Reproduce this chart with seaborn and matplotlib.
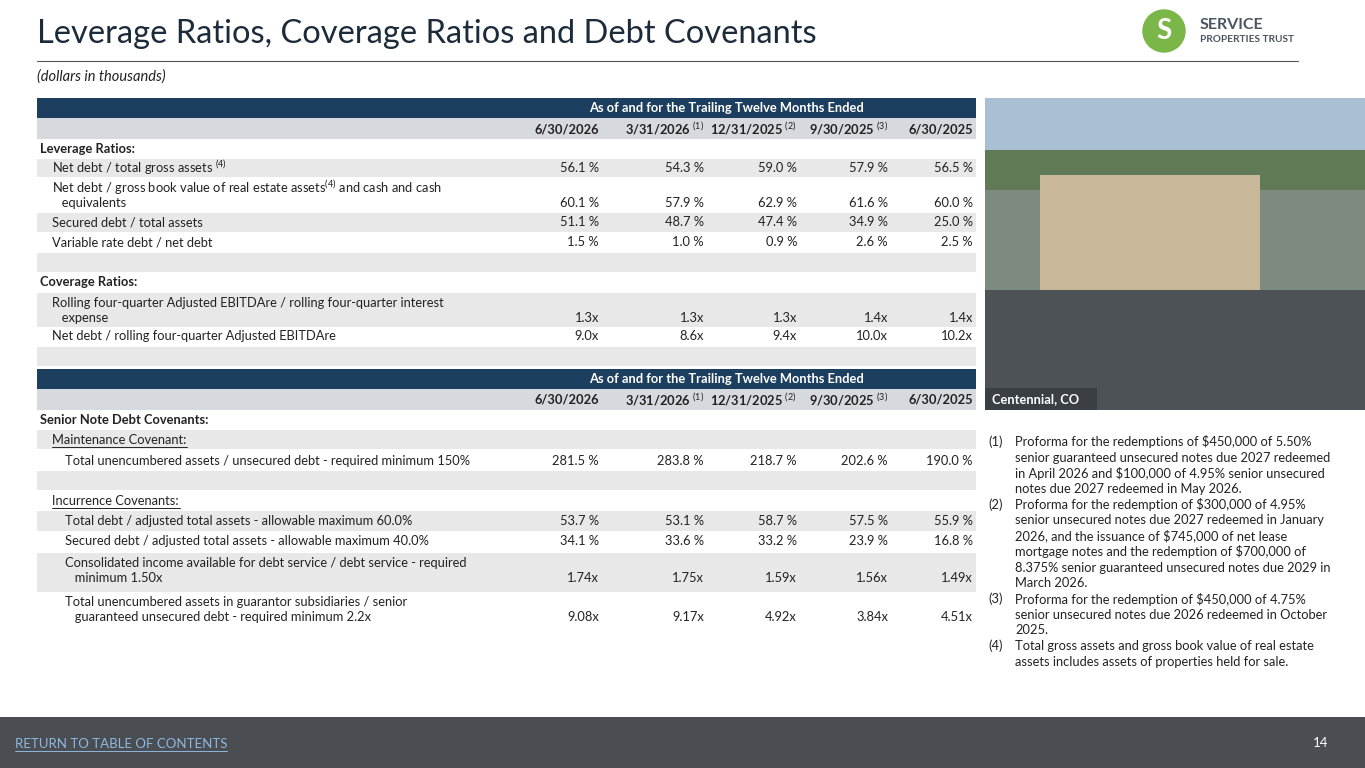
import numpy as np
import pandas as pd
import matplotlib.pyplot as plt
import matplotlib.patches as mpatches
import seaborn as sns

sns.set_theme(style="white")
plt.rcParams['font.family'] = ['Lato', 'DejaVu Sans']
plt.rcParams['mathtext.fontset'] = 'custom'
plt.rcParams['mathtext.rm'] = 'Lato'

NAVY = "#1c3f60"
BAND = "#e8e8e8"
HEAD = "#d6d9de"

periods = ["6/30/2026", "3/31/2026 $^{(1)}$", "12/31/2025 $^{(2)}$", "9/30/2025 $^{(3)}$", "6/30/2025"]
col_x = [591, 696, 789, 880, 965]

lev_labels = [
    ["Net debt / total gross assets $^{(4)}$"],
    ["Net debt / gross book value of real estate assets$^{(4)}$ and cash and cash", "   equivalents"],
    ["Secured debt / total assets"],
    ["Variable rate debt / net debt"],
]
lev_values = [
    ["56.1 %", "54.3 %", "59.0 %", "57.9 %", "56.5 %"],
    ["60.1 %", "57.9 %", "62.9 %", "61.6 %", "60.0 %"],
    ["51.1 %", "48.7 %", "47.4 %", "34.9 %", "25.0 %"],
    ["1.5 %", "1.0 %", "0.9 %", "2.6 %", "2.5 %"],
]
cov_labels = [
    ["Rolling four-quarter Adjusted EBITDAre / rolling four-quarter interest", "   expense"],
    ["Net debt / rolling four-quarter Adjusted EBITDAre"],
]
cov_values = [
    ["1.3x", "1.3x", "1.3x", "1.4x", "1.4x"],
    ["9.0x", "8.6x", "9.4x", "10.0x", "10.2x"],
]
maint_labels = [["Total unencumbered assets / unsecured debt - required minimum 150%"]]
maint_values = [["281.5 %", "283.8 %", "218.7 %", "202.6 %", "190.0 %"]]
inc_labels = [
    ["Total debt / adjusted total assets - allowable maximum 60.0%"],
    ["Secured debt / adjusted total assets - allowable maximum 40.0%"],
    ["Consolidated income available for debt service / debt service - required", "   minimum 1.50x"],
    ["Total unencumbered assets in guarantor subsidiaries / senior", "   guaranteed unsecured debt - required minimum 2.2x"],
]
inc_values = [
    ["53.7 %", "53.1 %", "58.7 %", "57.5 %", "55.9 %"],
    ["34.1 %", "33.6 %", "33.2 %", "23.9 %", "16.8 %"],
    ["1.74x", "1.75x", "1.59x", "1.56x", "1.49x"],
    ["9.08x", "9.17x", "4.92x", "3.84x", "4.51x"],
]
footnotes = [
    ("(1)", ["Proforma for the redemptions of $450,000 of 5.50%", "senior guaranteed unsecured notes due 2027 redeemed",
             "in April 2026 and $100,000 of 4.95% senior unsecured", "notes due 2027 redeemed in May 2026."]),
    ("(2)", ["Proforma for the redemption of $300,000 of 4.95%", "senior unsecured notes due 2027 redeemed in January",
             "2026, and the issuance of $745,000 of net lease", "mortgage notes and the redemption of $700,000 of",
             "8.375% senior guaranteed unsecured notes due 2029 in", "March 2026."]),
    ("(3)", ["Proforma for the redemption of $450,000 of 4.75%", "senior unsecured notes due 2026 redeemed in October", "2025."]),
    ("(4)", ["Total gross assets and gross book value of real estate", "assets includes assets of properties held for sale."]),
]

fig = plt.figure(figsize=(13.65, 7.68), dpi=100)
ax = fig.add_axes([0, 0, 1, 1])
ax.set_xlim(0, 1365)
ax.set_ylim(768, 0)
ax.axis("off")

FS = 9.3
L, R = 37, 976


def band(y0, y1, color):
    ax.add_patch(mpatches.Rectangle((L, y0), R - L, y1 - y0, color=color, lw=0))


def header(y0):
    band(y0, y0 + 20, NAVY)
    ax.text(726, y0 + 10, "As of and for the Trailing Twelve Months Ended", color="white",
            fontsize=FS, fontweight="bold", ha="center", va="center")
    band(y0 + 20, y0 + 41, HEAD)
    for x, p in zip(col_x, periods):
        ax.text(x + 8, y0 + 31, p, fontsize=FS, fontweight="bold", ha="right", va="center", color="#222")


def section(y, text, underline_to=None, indent=0, bold=True):
    ax.text(L + 3 + indent, y, text, fontsize=FS, fontweight="bold" if bold else "normal",
            ha="left", va="center", color="#222")
    if underline_to:
        ax.plot([L + 3 + indent, underline_to], [y + 7, y + 7], color="#222", lw=0.7)


def row(y0, y1, labels, values, shaded, indent=15):
    if shaded:
        band(y0, y1, BAND)
    n = len(labels)
    ys = [(y0 + y1) / 2] if n == 1 else [y0 + 10, y0 + 25]
    for yy, lab in zip(ys, labels):
        ax.text(L + indent, yy, lab, fontsize=FS, ha="left", va="center", color="#222")
    for x, v in zip(col_x, values):
        ax.text(x + 8, ys[-1], v, fontsize=FS, ha="right", va="center", color="#222")


# title
ax.text(37, 34, "Leverage Ratios, Coverage Ratios and Debt Covenants", fontsize=23.5, color="#1c2b3a",
        ha="left", va="center")
ax.plot([37, 1298], [61, 61], color="#555", lw=0.8)
ax.text(37, 77, "(dollars in thousands)", fontsize=10.5, style="italic", ha="left", va="center", color="#222")

# logo
ax.add_patch(mpatches.Circle((1164, 31), 21, color="#7ab648"))
ax.text(1164, 31, "S", fontsize=20, color="white", fontweight="bold", ha="center", va="center")
ax.text(1200, 25, "SERVICE", fontsize=11.5, fontweight="bold", color="#4a5560", ha="left", va="center")
ax.text(1200, 40, "PROPERTIES TRUST", fontsize=7.3, fontweight="bold", color="#4a5560", ha="left", va="center")

# table 1
header(98)
section(149, "Leverage Ratios:")
shade = [True, False, True, False]
spans = [(159, 177), (178, 212), (213, 232), (233, 252)]
for (a, b), s, lab, val in zip(spans, shade, lev_labels, lev_values):
    row(a, b, lab, val, s)
band(253, 272, BAND)
section(282, "Coverage Ratios:")
for (a, b), s, lab, val in zip([(293, 327), (327, 346)], [True, False], cov_labels, cov_values):
    row(a, b, lab, val, s)
band(347, 366, BAND)

# table 2
header(369)
section(420, "Senior Note Debt Covenants:")
band(430, 449, BAND)
section(440, "Maintenance Covenant:", underline_to=187, indent=12, bold=False)
row(451, 471, maint_labels[0], maint_values[0], False, indent=28)
band(471, 490, BAND)
section(501, "Incurrence Covenants:", underline_to=180, indent=12, bold=False)
for (a, b), s, lab, val in zip([(511, 531), (531, 551), (553, 592), (592, 622)], [True, False, True, False],
                               inc_labels, inc_values):
    row(a, b, lab, val, s, indent=28)

# photo placeholder
ax.add_patch(mpatches.Rectangle((985, 98), 380, 312, color="#7d8a80", lw=0))
ax.add_patch(mpatches.Rectangle((985, 98), 380, 70, color="#a9bfd4", lw=0))
ax.add_patch(mpatches.Rectangle((985, 150), 380, 40, color="#5f7a55", lw=0))
ax.add_patch(mpatches.Rectangle((1040, 175), 220, 120, color="#c9b79a", lw=0))
ax.add_patch(mpatches.Rectangle((985, 290), 380, 120, color="#4d5256", lw=0))
ax.add_patch(mpatches.Rectangle((985, 388), 112, 22, color="#3a3f44", lw=0))
ax.text(992, 399, "Centennial, CO", fontsize=FS, fontweight="bold", color="white", ha="left", va="center")

# footnotes
y = 442
for num, lines in footnotes:
    ax.text(988, y, num, fontsize=FS, ha="left", va="center", color="#222")
    for ln in lines:
        ax.text(1015, y, ln, fontsize=FS, ha="left", va="center", color="#222")
        y += 15.7

# bottom strip
ax.add_patch(mpatches.Rectangle((0, 717), 1365, 51, color="#4a4e52", lw=0))
ax.text(15, 744, "RETURN TO TABLE OF CONTENTS", fontsize=9.5, color="#8fb8e0", ha="left", va="center")
ax.plot([15, 227], [751, 751], color="#8fb8e0", lw=0.7)
ax.text(1328, 743, "14", fontsize=9.5, color="white", ha="right", va="center")

fig.savefig("out.png", dpi=100)
